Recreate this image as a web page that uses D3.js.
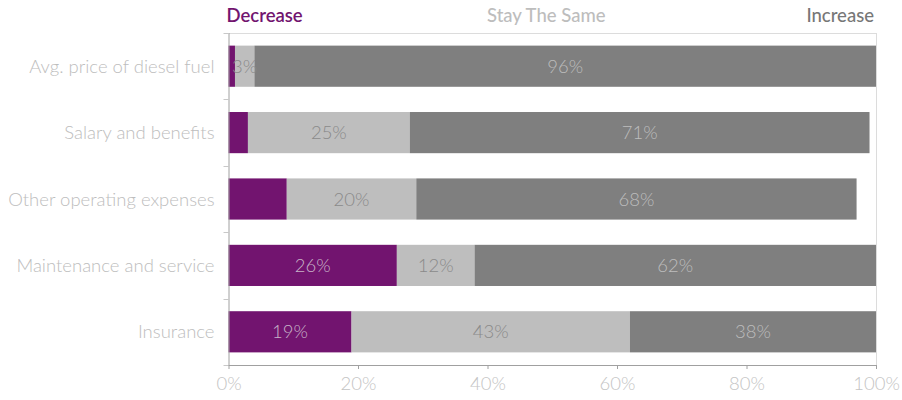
<!DOCTYPE html>
<html>
<head>
<meta charset="utf-8">
<script src="https://cdn.jsdelivr.net/npm/d3@7/dist/d3.min.js"></script>
<style>
  html, body { margin: 0; padding: 0; background: #fff; }
  svg { display: block; font-family: "Lato", "Open Sans", sans-serif; }
</style>
</head>
<body>
<svg id="chart" width="902" height="400"></svg>
<script>
// Expected change in operating costs, share of respondents
const categories = [
  "Avg. price of diesel fuel",
  "Salary and benefits",
  "Other operating expenses",
  "Maintenance and service",
  "Insurance"
];
const decrease = [1, 3, 9, 26, 19];
const stayTheSame = [3, 25, 20, 12, 43];
const increase = [96, 71, 68, 62, 38];
const seriesNames = ["Decrease", "Stay The Same", "Increase"];
const xTicks = [0, 20, 40, 60, 80, 100];

const seriesValues = [decrease, stayTheSame, increase];
const fills = ["#72146f", "#bebebe", "#7f7f7f"];
const labelFills = ["#c7b3c7", "#8a8a8a", "#bdbdbd"];
const legendFills = ["#72146f", "#bdbdbd", "#777777"];
const minLabel = [10, 0, 0];
const FS = 18.5;

const svg = d3.select("#chart");
const margin = { top: 33, right: 26, bottom: 35, left: 228.5 };
const W = 902, H = 400;
const innerW = W - margin.left - margin.right;
const innerH = H - margin.top - margin.bottom;

const x = d3.scaleLinear().domain([0, 100]).range([0, innerW]);
const y = d3.scaleBand().domain(categories).range([0, innerH]).paddingInner(0.38).paddingOuter(0.19);

const g = svg.append("g").attr("transform", `translate(${margin.left},${margin.top})`);

// frame lines on top and right
g.append("line").attr("x1", -4).attr("x2", innerW).attr("y1", 0.5).attr("y2", 0.5)
  .attr("stroke", "#dcdcdc");
g.append("line").attr("x1", innerW + 0.5).attr("x2", innerW + 0.5).attr("y1", 0).attr("y2", innerH)
  .attr("stroke", "#dcdcdc");

// stacked rows
const rows = categories.map((c, i) => {
  let acc = 0;
  return seriesValues.map((vals, s) => {
    const seg = { cat: c, s, v: vals[i], x0: acc, x1: acc + vals[i] };
    acc += vals[i];
    return seg;
  });
}).flat();

g.selectAll("rect.seg").data(rows).join("rect")
  .attr("class", "seg")
  .attr("x", d => x(d.x0))
  .attr("y", d => y(d.cat))
  .attr("width", d => x(d.x1) - x(d.x0))
  .attr("height", y.bandwidth())
  .attr("fill", d => fills[d.s]);

g.selectAll("text.val").data(rows.filter(d => d.v >= minLabel[d.s])).join("text")
  .attr("class", "val")
  .attr("x", d => (x(d.x0) + x(d.x1)) / 2)
  .attr("y", d => y(d.cat) + y.bandwidth() / 2)
  .attr("dy", "0.36em")
  .attr("text-anchor", "middle")
  .attr("font-size", FS)
  .attr("font-weight", 300)
  .attr("fill", d => labelFills[d.s])
  .text(d => d.v + "%");

// category axis with ticks at band boundaries
g.append("line").attr("x1", 0.5).attr("x2", 0.5).attr("y1", 0).attr("y2", innerH)
  .attr("stroke", "#a0a0a0");
const bounds = d3.range(categories.length + 1).map(i => i * innerH / categories.length);
g.selectAll("line.ytick").data(bounds).join("line")
  .attr("class", "ytick")
  .attr("x1", -5).attr("x2", 0.5)
  .attr("y1", d => Math.round(d) + 0.5).attr("y2", d => Math.round(d) + 0.5)
  .attr("stroke", "#c8c8c8");
g.selectAll("text.cat").data(categories).join("text")
  .attr("class", "cat")
  .attr("x", -14)
  .attr("y", d => y(d) + y.bandwidth() / 2)
  .attr("dy", "0.36em")
  .attr("text-anchor", "end")
  .attr("font-size", FS)
  .attr("font-weight", 300)
  .attr("fill", "#bdbdbd")
  .text(d => d);

// percentage axis
const xAxis = g.append("g").attr("transform", `translate(0,${innerH})`)
  .call(d3.axisBottom(x).tickValues(xTicks).tickFormat(d => d + "%").tickSize(4).tickSizeOuter(0));
xAxis.select(".domain").attr("stroke", "#a0a0a0");
xAxis.selectAll(".tick line").attr("stroke", "#a0a0a0");
xAxis.selectAll(".tick text")
  .attr("font-family", "Lato, 'Open Sans', sans-serif")
  .attr("font-size", FS)
  .attr("font-weight", 300)
  .attr("fill", "#c4c4c4")
  .attr("dy", "0.95em");

// legend row above the plot
const legendX = [-2, innerW / 2 - 6, innerW - 2];
const legendAnchor = ["start", "middle", "end"];
svg.selectAll("text.legend").data(seriesNames).join("text")
  .attr("class", "legend")
  .attr("x", (d, i) => margin.left + legendX[i])
  .attr("y", 22)
  .attr("text-anchor", (d, i) => legendAnchor[i])
  .attr("font-size", FS)
  .attr("font-weight", (d, i) => i === 0 ? 600 : 500)
  .attr("fill", (d, i) => legendFills[i])
  .text(d => d);
</script>
</body>
</html>
